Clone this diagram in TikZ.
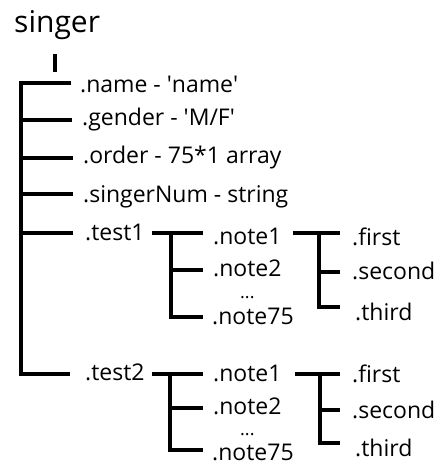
\documentclass[tikz,border=0pt]{standalone}
\usepackage{fontspec}
\setmainfont{Open Sans}
\begin{document}
\begin{tikzpicture}[x=1pt,y=-1pt,
  tree/.style={line width=3.2pt},
  lbl/.style={anchor=base west, inner sep=0pt, font=\fontsize{23}{27}\selectfont},
  dotlbl/.style={anchor=base west, inner sep=0pt, font=\fontsize{18}{22}\selectfont}]
\useasboundingbox (0,0) rectangle (440,470);
% root
\node[anchor=base west, inner sep=0pt, font=\fontsize{30}{36}\selectfont] (singer) at (14,33) {singer};
\coordinate (tickT) at (55,54);
\coordinate (tickB) at (55,72);
\draw[tree, line width=4pt] (tickT) -- (tickB);
% level 1 labels
\node[lbl] (name) at (80,93) {.name - \textquotesingle name\textquotesingle};
\node[lbl] (gender) at (82,126) {.gender - \textquotesingle M/F\textquotesingle};
\node[lbl] (order) at (83,164) {.order - 75*1 array};
\node[lbl] (snum) at (83,202) {.singerNum - string};
\node[lbl] (test1) at (85,240) {.test1};
\node[lbl] (test2) at (85,380) {.test2};
% trunk
\coordinate (j1) at (21,83);  \coordinate (e1) at (71,83);
\coordinate (j2) at (21,120); \coordinate (e2) at (72,120);
\coordinate (j3) at (21,158); \coordinate (e3) at (73,158);
\coordinate (j4) at (21,194); \coordinate (e4) at (73,194);
\coordinate (j5) at (21,233); \coordinate (e5) at (73,233);
\coordinate (j6) at (21,374); \coordinate (e6) at (70,374);
\draw[tree] (e1) -- (j1) -- (j6) -- (e6);
\draw[tree] (j2) -- (e2);
\draw[tree] (j3) -- (e3);
\draw[tree] (j4) -- (e4);
\draw[tree] (j5) -- (e5);
% test1 notes
\node[lbl] (t1n1) at (213,244) {.note1};
\node[lbl] (t1n2) at (213,276) {.note2};
\node[dotlbl] (t1d) at (240,298) {...};
\node[lbl] (t1n75) at (212,324) {.note75};
\coordinate (a1L) at (152,233); \coordinate (a1R) at (203,233);
\coordinate (a1V) at (171,233);
\coordinate (a1mL) at (171,270); \coordinate (a1mR) at (203,270);
\coordinate (a1bR) at (203,317);
\draw[tree] (a1L) -- (a1R);
\draw[tree] (a1V) |- (a1bR);
\draw[tree] (a1mL) -- (a1mR);
% test1 note1 fields
\node[lbl] (t1f) at (352,245) {.first};
\node[lbl] (t1s) at (352,279) {.second};
\node[lbl] (t1t) at (355,320) {.third};
\coordinate (b1L) at (293,233); \coordinate (b1R) at (340,233);
\coordinate (b1V) at (319,233);
\coordinate (b1mL) at (319,272); \coordinate (b1mR) at (340,272);
\coordinate (b1bR) at (340,307);
\draw[tree] (b1L) -- (b1R);
\draw[tree] (b1V) |- (b1bR);
\draw[tree] (b1mL) -- (b1mR);
% test2 notes
\node[lbl] (t2n1) at (213,381) {.note1};
\node[lbl] (t2n2) at (213,414) {.note2};
\node[dotlbl] (t2d) at (240,435) {...};
\node[lbl] (t2n75) at (212,460) {.note75};
\coordinate (a2L) at (152,374); \coordinate (a2R) at (203,374);
\coordinate (a2V) at (170,374);
\coordinate (a2mL) at (170,408); \coordinate (a2mR) at (203,408);
\coordinate (a2bR) at (203,450);
\draw[tree] (a2L) -- (a2R);
\draw[tree] (a2V) |- (a2bR);
\draw[tree] (a2mL) -- (a2mR);
% test2 note1 fields
\node[lbl] (t2f) at (352,382) {.first};
\node[lbl] (t2s) at (352,418) {.second};
\node[lbl] (t2t) at (355,456) {.third};
\coordinate (b2L) at (295,374); \coordinate (b2R) at (340,374);
\coordinate (b2V) at (320,374);
\coordinate (b2mL) at (320,410); \coordinate (b2mR) at (340,410);
\coordinate (b2bR) at (340,443);
\draw[tree] (b2L) -- (b2R);
\draw[tree] (b2V) |- (b2bR);
\draw[tree] (b2mL) -- (b2mR);
\end{tikzpicture}
\end{document}
